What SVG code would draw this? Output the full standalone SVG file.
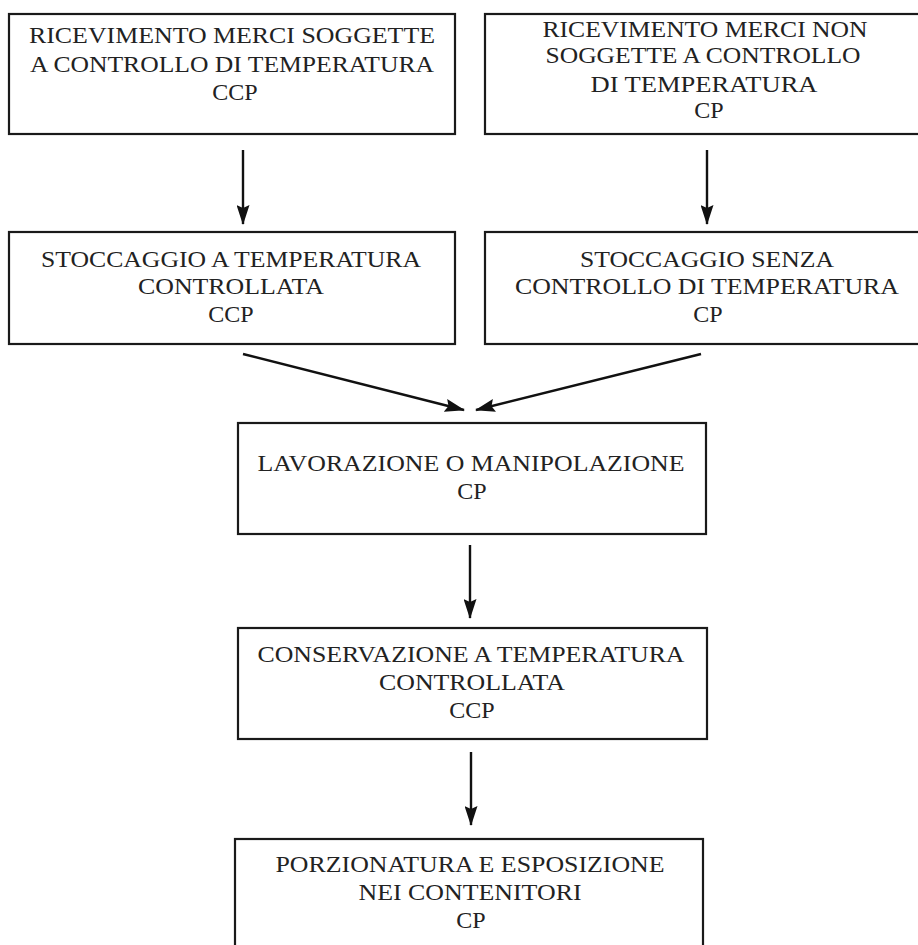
<svg xmlns="http://www.w3.org/2000/svg" width="918" height="945" viewBox="0 0 918 945">
<style>
.box{fill:#fff;stroke:#1a1a1a;stroke-width:2.2}
.t{font-family:"Liberation Serif","Times New Roman",serif;font-size:24px;fill:#222;text-anchor:middle}
.c{stroke:#111;stroke-width:2.4;fill:none}
</style>
<defs>
<marker id="ah" markerUnits="userSpaceOnUse" markerWidth="20" markerHeight="13" refX="19" refY="6.5" viewBox="0 0 20 13" orient="auto">
<path d="M0,0 L20,6.5 L0,13 L3,6.5 Z" fill="#111"/>
</marker>
</defs>
<rect width="918" height="945" fill="#fff"/>
<g id="n1">
<rect class="box" x="9" y="14" width="446" height="120"/>
<text class="t" x="232" y="43" textLength="406" lengthAdjust="spacingAndGlyphs">RICEVIMENTO MERCI SOGGETTE</text>
<text class="t" x="232" y="72" textLength="404" lengthAdjust="spacingAndGlyphs">A CONTROLLO DI TEMPERATURA</text>
<text class="t" x="235" y="100">CCP</text>
</g>
<g id="n2">
<rect class="box" x="485" y="14" width="440" height="120"/>
<text class="t" x="705" y="37" textLength="325" lengthAdjust="spacingAndGlyphs">RICEVIMENTO MERCI NON</text>
<text class="t" x="703" y="63" textLength="315" lengthAdjust="spacingAndGlyphs">SOGGETTE A CONTROLLO</text>
<text class="t" x="704" y="92" textLength="227" lengthAdjust="spacingAndGlyphs">DI TEMPERATURA</text>
<text class="t" x="709" y="118">CP</text>
</g>
<g id="n3">
<rect class="box" x="9" y="232" width="446" height="112"/>
<text class="t" x="231" y="267" textLength="380" lengthAdjust="spacingAndGlyphs">STOCCAGGIO A TEMPERATURA</text>
<text class="t" x="231" y="294" textLength="186" lengthAdjust="spacingAndGlyphs">CONTROLLATA</text>
<text class="t" x="231" y="322">CCP</text>
</g>
<g id="n4">
<rect class="box" x="485" y="232" width="440" height="112"/>
<text class="t" x="707" y="267" textLength="254" lengthAdjust="spacingAndGlyphs">STOCCAGGIO SENZA</text>
<text class="t" x="707" y="294" textLength="384" lengthAdjust="spacingAndGlyphs">CONTROLLO DI TEMPERATURA</text>
<text class="t" x="708" y="322">CP</text>
</g>
<g id="n5">
<rect class="box" x="238" y="423" width="468" height="111"/>
<text class="t" x="471" y="471" textLength="427" lengthAdjust="spacingAndGlyphs">LAVORAZIONE O MANIPOLAZIONE</text>
<text class="t" x="472" y="499">CP</text>
</g>
<g id="n6">
<rect class="box" x="238" y="628" width="469" height="111"/>
<text class="t" x="471" y="662" textLength="427" lengthAdjust="spacingAndGlyphs">CONSERVAZIONE A TEMPERATURA</text>
<text class="t" x="472" y="690" textLength="186" lengthAdjust="spacingAndGlyphs">CONTROLLATA</text>
<text class="t" x="472" y="718">CCP</text>
</g>
<g id="n7">
<rect class="box" x="235" y="839" width="468" height="120"/>
<text class="t" x="470" y="872" textLength="389" lengthAdjust="spacingAndGlyphs">PORZIONATURA E ESPOSIZIONE</text>
<text class="t" x="470" y="900" textLength="223" lengthAdjust="spacingAndGlyphs">NEI CONTENITORI</text>
<text class="t" x="471" y="928">CP</text>
</g>
<g id="connectors">
<line class="c" x1="243" y1="150" x2="243" y2="224" marker-end="url(#ah)"/>
<line class="c" x1="707" y1="150" x2="707" y2="224" marker-end="url(#ah)"/>
<line class="c" x1="243" y1="354" x2="464" y2="410" marker-end="url(#ah)"/>
<line class="c" x1="701" y1="354" x2="476" y2="410" marker-end="url(#ah)"/>
<line class="c" x1="470" y1="545" x2="470" y2="618" marker-end="url(#ah)"/>
<line class="c" x1="471" y1="752" x2="471" y2="825" marker-end="url(#ah)"/>
</g>
</svg>
